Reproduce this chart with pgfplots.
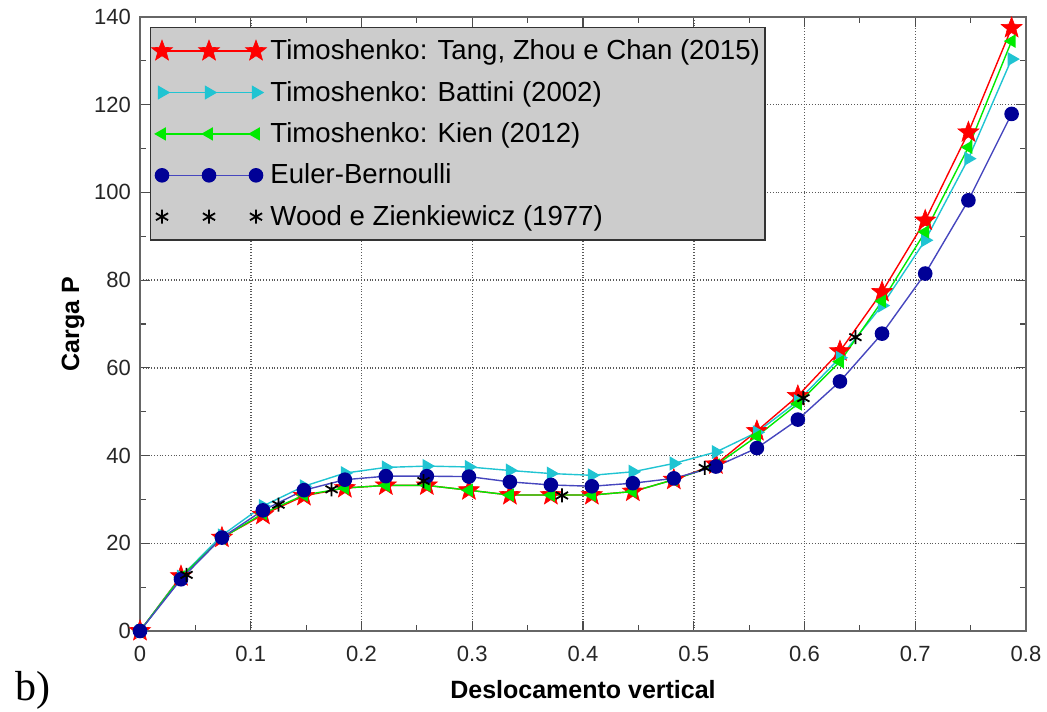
\documentclass[border=0pt]{standalone}
\usepackage{fontspec}
\setmainfont{Liberation Sans}
\newfontfamily\serifb{Liberation Serif}
\usepackage{pgfplots}
\pgfplotsset{compat=1.18}
\definecolor{cred}{RGB}{255,0,0}
\definecolor{ccyan}{RGB}{32,196,210}
\definecolor{cgreen}{RGB}{0,235,0}
\definecolor{cnavy}{RGB}{0,0,150}
\definecolor{cblueline}{RGB}{70,70,190}
\pgfdeclareplotmark{fivestar}{%
  \pgfpathmoveto{\pgfpointpolar{90}{\pgfplotmarksize}}%
  \pgfpathlineto{\pgfpointpolar{126}{0.42\pgfplotmarksize}}%
  \pgfpathlineto{\pgfpointpolar{162}{\pgfplotmarksize}}%
  \pgfpathlineto{\pgfpointpolar{198}{0.42\pgfplotmarksize}}%
  \pgfpathlineto{\pgfpointpolar{234}{\pgfplotmarksize}}%
  \pgfpathlineto{\pgfpointpolar{270}{0.42\pgfplotmarksize}}%
  \pgfpathlineto{\pgfpointpolar{306}{\pgfplotmarksize}}%
  \pgfpathlineto{\pgfpointpolar{342}{0.42\pgfplotmarksize}}%
  \pgfpathlineto{\pgfpointpolar{18}{\pgfplotmarksize}}%
  \pgfpathlineto{\pgfpointpolar{54}{0.42\pgfplotmarksize}}%
  \pgfpathclose\pgfusepathqfillstroke}
\begin{document}
\begin{tikzpicture}
\begin{axis}[
  scale only axis,
  width=443pt, height=307pt,
  xmin=0, xmax=0.8, ymin=0, ymax=140,
  xtick={0,0.1,...,0.8}, ytick={0,20,...,140},
  xticklabels={0,0.1,0.2,0.3,0.4,0.5,0.6,0.7,0.8},
  minor x tick num=1, minor y tick num=1,
  tick align=inside,
  major tick length=5pt, minor tick length=3pt,
  tick style={black!70, line width=0.6pt},
  axis line style={black!60, line width=1pt},
  grid=major,
  grid style={densely dotted, black!65, line width=0.75pt},
  tick label style={font=\fontsize{11}{13}\selectfont, text=black!85},
  /pgf/number format/assume math mode=true,
  xlabel={Deslocamento vertical},
  ylabel={Carga P},
  label style={font=\fontsize{12.5}{14}\selectfont\bfseries},
  xlabel style={at={(axis description cs:0.5,0)}, anchor=center, yshift=-29.5pt},
  ylabel style={at={(axis description cs:0,0.5)}, anchor=center, yshift=33.5pt},
  xticklabel style={yshift=-4pt},
  yticklabel style={xshift=-1pt},
  legend cell align=left,
  legend style={at={(axis description cs:0.011,0.984)}, anchor=north west,
    fill=black!20, draw=black!80, line width=0.8pt,
    font=\fontsize{13.8}{16}\selectfont, row sep=5.2pt, inner ysep=4pt, inner xsep=0.5pt},
  legend image code/.code={\draw[mark repeat=1,mark phase=1] plot coordinates {(0pt,0pt) (23.5pt,0pt) (47pt,0pt)};},
]
\addplot[cred, line width=0.7pt, mark=fivestar, mark size=5.5pt, mark options={solid, fill=cred, draw=cred, line width=0.3pt}]
 coordinates {(0,0) (0.037,12.5) (0.074,21.3) (0.111,26.5) (0.148,30.8) (0.185,32.6) (0.222,33.2) (0.259,33.2) (0.297,32.1) (0.334,31.0) (0.371,31.0) (0.408,31.0) (0.445,31.8) (0.482,34.5) (0.52,38.0) (0.557,45.6) (0.594,53.6) (0.632,63.8) (0.67,77.3) (0.709,93.6) (0.748,113.7) (0.787,137.5)};
\addlegendentry{Timoshenko: Tang, Zhou e Chan (2015)}
\addplot[ccyan, line width=0.7pt, mark=triangle*, mark size=3.4pt, mark options={solid, rotate=-90, fill=ccyan, draw=ccyan}]
 coordinates {(0,0) (0.037,12.4) (0.074,21.8) (0.111,28.5) (0.148,33.0) (0.185,36.0) (0.222,37.3) (0.259,37.6) (0.297,37.4) (0.334,36.6) (0.371,35.9) (0.408,35.5) (0.445,36.3) (0.482,38.2) (0.52,40.8) (0.557,45.3) (0.594,52.4) (0.632,62.3) (0.67,74.2) (0.709,89.1) (0.748,107.7) (0.787,130.4)};
\addlegendentry{Timoshenko: Battini (2002)}
\addplot[cgreen, line width=0.7pt, mark=triangle*, mark size=3.2pt, mark options={solid, rotate=90, fill=cgreen, draw=cgreen}]
 coordinates {(0,0) (0.037,12.3) (0.074,21.2) (0.111,26.8) (0.148,31.0) (0.185,32.6) (0.222,33.2) (0.259,33.2) (0.297,32.1) (0.334,31.0) (0.371,31.0) (0.408,31.0) (0.445,31.8) (0.482,34.5) (0.52,37.8) (0.557,44.4) (0.594,51.8) (0.632,61.4) (0.67,75.2) (0.709,91.0) (0.748,110.3) (0.787,134.5)};
\addlegendentry{Timoshenko: Kien (2012)}
\addplot[cblueline, line width=0.7pt, mark=*, mark size=3.3pt, mark options={solid, fill=cnavy, draw=cnavy}]
 coordinates {(0,0) (0.037,11.8) (0.074,21.3) (0.111,27.5) (0.148,32.1) (0.185,34.5) (0.222,35.3) (0.259,35.3) (0.297,35.2) (0.334,34.0) (0.371,33.3) (0.408,33.0) (0.445,33.7) (0.482,34.8) (0.52,37.5) (0.557,41.7) (0.594,48.2) (0.632,56.9) (0.67,67.8) (0.709,81.5) (0.748,98.2) (0.787,117.9)};
\addlegendentry{Euler-Bernoulli}
\addplot[black, only marks, mark=asterisk, mark size=3.5pt, mark options={line width=0.9pt}]
 coordinates {(0.042,12.8) (0.125,28.8) (0.173,32.3) (0.256,34.2) (0.381,30.9) (0.51,37.2) (0.599,53.1) (0.646,67.0)};
\addlegendentry{Wood e Zienkiewicz (1977)}
\coordinate (SW) at (rel axis cs:0,0);
\coordinate (NE) at (rel axis cs:1,1);
\end{axis}
\node[anchor=center, font=\serifb\fontsize{21}{23}\selectfont] at ([shift={(-53.5pt,-29.5pt)}]SW) {b)};
\pgfresetboundingbox
\path[use as bounding box] ([shift={(-70pt,-40pt)}]SW) rectangle ([shift={(10.5pt,8.5pt)}]NE);
\end{tikzpicture}
\end{document}
